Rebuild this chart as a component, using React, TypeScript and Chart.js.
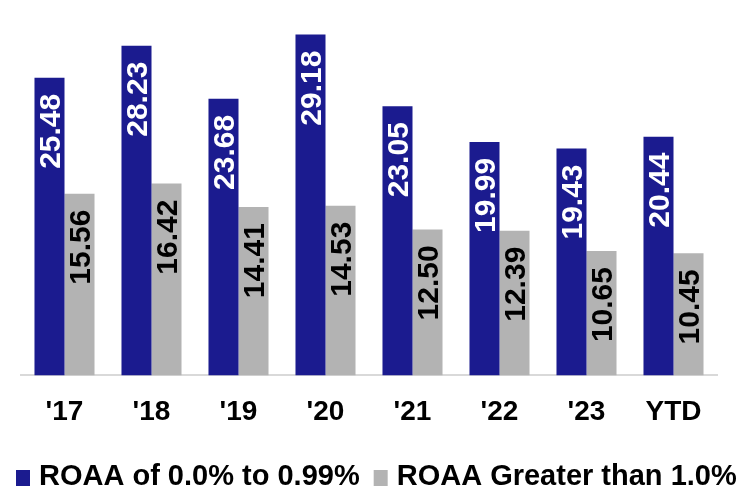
import React, { useEffect, useRef } from "react";
import { Chart, registerables } from "chart.js";

Chart.register(...registerables);

const categories = ["'17", "'18", "'19", "'20", "'21", "'22", "'23", "YTD"];
const seriesLowLabel = "ROAA of 0.0% to 0.99%";
const seriesHighLabel = "ROAA Greater than 1.0%";
const seriesLow = [25.48, 28.23, 23.68, 29.18, 23.05, 19.99, 19.43, 20.44];
const seriesHigh = [15.56, 16.42, 14.41, 14.53, 12.5, 12.39, 10.65, 10.45];

const BLUE = "#1B1B8F";
const GRAY = "#B3B3B3";
const FONT = "'Liberation Sans', Arial, Helvetica, sans-serif";

const barLabelPlugin = {
  id: "barLabels",
  afterDatasetsDraw(chart: any) {
    const ctx = chart.ctx;
    chart.data.datasets.forEach((ds: any, di: number) => {
      const meta = chart.getDatasetMeta(di);
      if (meta.hidden) return;
      meta.data.forEach((bar: any, i: number) => {
        const v = ds.data[i];
        const text = Number(v).toFixed(2);
        ctx.save();
        ctx.translate(bar.x + 2.5, bar.y + 16);
        ctx.rotate(-Math.PI / 2);
        ctx.textAlign = "right";
        ctx.textBaseline = "middle";
        ctx.font = `bold 30px ${FONT}`;
        ctx.fillStyle = di === 0 ? "#FFFFFF" : "#000000";
        ctx.fillText(text, 0, 0);
        ctx.restore();
      });
    });
  },
};

const customLegendPlugin = {
  id: "customLegend",
  afterDraw(chart: any) {
    const ctx = chart.ctx;
    const datasets = chart.data.datasets;
    const fontSize = 29;
    ctx.save();
    ctx.font = `bold ${fontSize}px ${FONT}`;
    ctx.textBaseline = "alphabetic";
    ctx.textAlign = "left";
    const baseline = 485;
    let x = 16;
    datasets.forEach((ds: any, i: number) => {
      ctx.fillStyle = ds.backgroundColor;
      ctx.fillRect(x, baseline - 15, 14, 16);
      x += 14 + 9;
      ctx.fillStyle = "#000000";
      ctx.fillText(ds.label, x, baseline);
      x += ctx.measureText(ds.label).width + 14;
    });
    ctx.restore();
  },
};

export default function App() {
  const ref = useRef<HTMLCanvasElement | null>(null);

  useEffect(() => {
    if (!ref.current) return;
    const chart = new Chart(ref.current, {
      type: "bar",
      data: {
        labels: categories,
        datasets: [
          {
            label: seriesLowLabel,
            data: seriesLow,
            backgroundColor: BLUE,
            categoryPercentage: 0.69,
            barPercentage: 1,
          },
          {
            label: seriesHighLabel,
            data: seriesHigh,
            backgroundColor: GRAY,
            categoryPercentage: 0.69,
            barPercentage: 1,
          },
        ],
      },
      options: {
        responsive: false,
        animation: false,
        layout: { padding: { left: 21, right: 26, top: 25, bottom: 39 } },
        plugins: {
          tooltip: { enabled: false },
          legend: { display: false },
        },
        scales: {
          x: {
            grid: { display: false, drawTicks: false },
            border: { display: true, color: "#D9D9D9", width: 2 },
            ticks: {
              color: "#000000",
              font: { family: FONT, size: 28, weight: "bold" },
              padding: 20,
              maxRotation: 0,
              autoSkip: false,
            },
          },
          y: {
            display: false,
            min: 0,
            max: 30,
          },
        },
      },
      plugins: [barLabelPlugin, customLegendPlugin],
    });
    return () => chart.destroy();
  }, []);

  return (
    <div style={{ position: "fixed", left: 0, top: 0, width: 743, height: 488, background: "#fff" }}>
      <canvas ref={ref} width={743} height={488} style={{ display: "block" }} />
    </div>
  );
}
